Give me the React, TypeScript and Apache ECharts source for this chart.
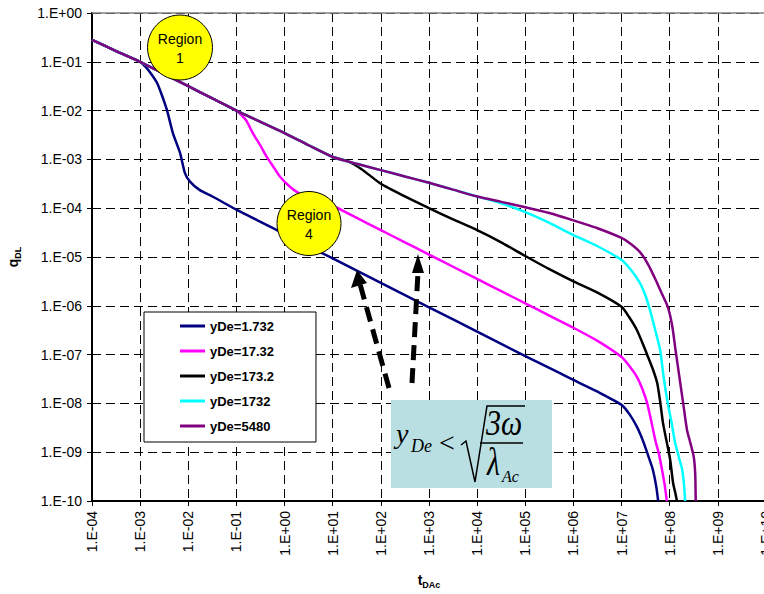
import React, { useEffect, useRef } from "react";
import * as echarts from "echarts";

// All values are log10 exponents (log-log chart)
const xTickExps = [-4, -3, -2, -1, 0, 1, 2, 3, 4, 5, 6, 7, 8, 9, 10];
const yTickExps = [-10, -9, -8, -7, -6, -5, -4, -3, -2, -1, 0];

const seriesNames = ["yDe=1.732", "yDe=17.32", "yDe=173.2", "yDe=1732", "yDe=5480"];
const seriesColors = ["#000080", "#ff00ff", "#000000", "#00ffff", "#800080"];

// yDe = 1.732
const tNavy = [-4, -3.5, -3, -2.89, -2.77, -2.65, -2.55, -2.44, -2.32, -2.17, -2.07, -1.96, -1.76, -1.5, -1, -0.5, 0, 1, 2, 3, 4, 5, 5.72, 6, 6.5, 7, 7.17, 7.32, 7.41, 7.49, 7.57, 7.65, 7.72, 7.76];
const qNavy = [-0.55, -0.78, -1.0, -1.1, -1.25, -1.43, -1.68, -2.0, -2.46, -2.87, -3.28, -3.46, -3.63, -3.76, -4.03, -4.28, -4.53, -5.03, -5.53, -6.03, -6.53, -7.03, -7.38, -7.52, -7.76, -8.03, -8.23, -8.48, -8.68, -8.89, -9.12, -9.36, -9.7, -10];

// yDe = 17.32
const tMagenta = [-4, -3.5, -3, -2.5, -2, -1.5, -1, -0.8, -0.66, -0.5, -0.37, -0.2, -0.09, 0.1, 0.26, 0.5, 1, 1.5, 2, 2.5, 3, 3.5, 4, 4.5, 5, 5.5, 6, 6.5, 7, 7.15, 7.32, 7.43, 7.53, 7.62, 7.7, 7.78, 7.84, 7.9, 7.94];
const qMagenta = [-0.55, -0.78, -1.0, -1.25, -1.5, -1.75, -2.0, -2.2, -2.46, -2.72, -2.95, -3.2, -3.36, -3.55, -3.67, -3.79, -3.95, -4.2, -4.45, -4.7, -4.95, -5.2, -5.45, -5.7, -5.95, -6.2, -6.45, -6.72, -7.05, -7.22, -7.46, -7.7, -7.99, -8.38, -8.75, -9.05, -9.36, -9.7, -10];

// yDe = 173.2
const tBlack = [-4, -3.5, -3, -2.5, -2, -1.5, -1, -0.5, 0, 0.5, 1, 1.3, 1.6, 2, 2.5, 3, 3.5, 4, 4.5, 5, 5.5, 6, 6.5, 7, 7.15, 7.32, 7.45, 7.55, 7.65, 7.74, 7.8, 7.86, 7.94, 8.01, 8.07, 8.12, 8.15];
const qBlack = [-0.55, -0.78, -1.0, -1.25, -1.5, -1.75, -2.0, -2.23, -2.46, -2.71, -2.95, -3.03, -3.2, -3.5, -3.76, -4.0, -4.23, -4.45, -4.7, -4.98, -5.25, -5.5, -5.73, -6.02, -6.22, -6.5, -6.8, -7.05, -7.3, -7.58, -7.95, -8.4, -8.8, -9.16, -9.63, -9.85, -10];

// yDe = 1732
const tCyan = [-4, -3.5, -3, -2.5, -2, -1.5, -1, -0.5, 0, 0.5, 1, 1.5, 2, 2.5, 3, 3.5, 4, 4.5, 5, 5.5, 6, 6.5, 7, 7.2, 7.38, 7.5, 7.59, 7.7, 7.8, 7.88, 7.96, 8.04, 8.11, 8.19, 8.26, 8.3, 8.32];
const qCyan = [-0.55, -0.78, -1.0, -1.25, -1.5, -1.75, -2.0, -2.23, -2.46, -2.71, -2.95, -3.09, -3.22, -3.35, -3.48, -3.62, -3.76, -3.9, -4.08, -4.3, -4.55, -4.78, -5.06, -5.27, -5.53, -5.8, -6.09, -6.5, -6.9, -7.5, -8.0, -8.4, -8.8, -9.1, -9.36, -9.7, -10];

// yDe = 5480
const tPurple = [-4, -3.5, -3, -2.5, -2, -1.5, -1, -0.5, 0, 0.5, 1, 1.5, 2, 2.5, 3, 3.5, 4, 4.5, 5, 5.5, 6, 6.5, 7, 7.2, 7.4, 7.55, 7.7, 7.85, 7.96, 8.05, 8.12, 8.2, 8.28, 8.36, 8.44, 8.5, 8.53, 8.54];
const qPurple = [-0.55, -0.78, -1.0, -1.25, -1.5, -1.75, -2.0, -2.23, -2.46, -2.71, -2.95, -3.09, -3.22, -3.35, -3.48, -3.62, -3.76, -3.87, -3.98, -4.1, -4.25, -4.41, -4.61, -4.74, -4.92, -5.15, -5.45, -5.78, -6.02, -6.4, -6.9, -7.45, -8.0, -8.55, -8.85, -9.1, -9.45, -10];

const seriesT = [tNavy, tMagenta, tBlack, tCyan, tPurple];
const seriesQ = [qNavy, qMagenta, qBlack, qCyan, qPurple];

const SANS = "Liberation Sans, Arial, Helvetica, sans-serif";
const SERIF = "Liberation Serif, Times New Roman, serif";

const expLabel = (v: number) => {
  const n = Math.round(v);
  return "1.E" + (n < 0 ? "-" : "+") + String(Math.abs(n)).padStart(2, "0");
};

export default function App() {
  const ref = useRef<HTMLDivElement>(null);
  useEffect(() => {
    if (!ref.current) return;
    const chart = echarts.init(ref.current, undefined, { renderer: "svg" });
    const Z = 100;
    const nameRich = {
      t: { fontSize: 14, fontWeight: "bold", fontFamily: SANS, color: "#000", lineHeight: 18, verticalAlign: "middle" },
      s: { fontSize: 9, fontWeight: "bold", fontFamily: SANS, color: "#000", lineHeight: 10, verticalAlign: "bottom", padding: [6, 0, 0, 0] },
    };
    const txt = (x: number, y: number, text: string, size: number, italic: boolean, extra: any = {}) => ({
      type: "text",
      z: Z + 1,
      x,
      y,
      ...extra,
      style: {
        text,
        fontSize: size,
        fontStyle: italic ? "italic" : "normal",
        fontFamily: SERIF,
        fill: "#000",
        align: "left",
        verticalAlign: "middle",
        textAlign: "left",
        textVerticalAlign: "middle",
      },
    });
    const option: any = {
      animation: false,
      backgroundColor: "#ffffff",
      grid: { left: 92, top: 13, width: 674, height: 488, outerBoundsMode: "none", containLabel: false },
      xAxis: {
        type: "value",
        min: xTickExps[0],
        max: xTickExps[xTickExps.length - 1],
        interval: 1,
        name: "{t|t}{s|DAc}",
        nameLocation: "middle",
        nameGap: 70,
        nameTextStyle: { rich: nameRich },
        axisLine: { show: true, onZero: false, lineStyle: { color: "#000", width: 2 } },
        axisTick: { show: true, length: 5, lineStyle: { color: "#000", width: 1 } },
        axisLabel: { rotate: 90, fontSize: 14, fontFamily: SANS, color: "#000", margin: 10, formatter: expLabel, showMinLabel: true, showMaxLabel: true },
        splitLine: { show: true, lineStyle: { color: "#000", width: 1, type: [9, 5] } },
      },
      yAxis: {
        type: "value",
        min: yTickExps[0],
        max: yTickExps[yTickExps.length - 1],
        interval: 1,
        name: "{t|q}{s|DL}",
        nameLocation: "middle",
        nameGap: 70,
        nameRotate: 90,
        nameTextStyle: { rich: nameRich },
        axisLine: { show: true, onZero: false, lineStyle: { color: "#000", width: 2 } },
        axisTick: { show: true, length: 5, lineStyle: { color: "#000", width: 1 } },
        axisLabel: { fontSize: 14, fontFamily: SANS, color: "#000", margin: 10, formatter: expLabel },
        splitLine: { show: true, lineStyle: { color: "#000", width: 1, type: [9, 5] } },
      },
      legend: {
        orient: "vertical",
        left: 144,
        top: 312,
        padding: [7, 42, 9, 36],
        itemGap: 11,
        itemWidth: 25,
        itemHeight: 3,
        itemTextGap: 2,
        icon: "rect",
        backgroundColor: "#ffffff",
        borderColor: "#000",
        borderWidth: 1,
        textStyle: { fontSize: 13, fontWeight: "bold", fontFamily: SANS, color: "#000", lineHeight: 14 },
        data: seriesNames,
      },
      series: seriesNames.map((name, i) => ({
        name,
        type: "line",
        symbol: "none",
        showSymbol: false,
        smooth: 0.2,
        clip: true,
        color: seriesColors[i],
        lineStyle: { color: seriesColors[i], width: 2.5 },
        data: seriesT[i].map((t, j) => [t, seriesQ[i][j]]),
      })),
      graphic: [
        { type: "line", z: 50, shape: { x1: 92, y1: 13, x2: 766, y2: 13 }, style: { stroke: "#808080", lineWidth: 1.5 } },
        // Region circles
        { type: "circle", z: Z, shape: { cx: 180, cy: 47.5, r: 32.5 }, style: { fill: "#ffff00", stroke: "#000", lineWidth: 1 } },
        { type: "text", z: Z + 1, x: 180, y: 48.5, style: { text: "Region\n1", fontSize: 14, fontFamily: SANS, fill: "#000", align: "center", verticalAlign: "middle", textAlign: "center", textVerticalAlign: "middle", lineHeight: 19 } },
        { type: "circle", z: Z, shape: { cx: 309, cy: 223.5, r: 32 }, style: { fill: "#ffff00", stroke: "#000", lineWidth: 1 } },
        { type: "text", z: Z + 1, x: 309, y: 224, style: { text: "Region\n4", fontSize: 14, fontFamily: SANS, fill: "#000", align: "center", verticalAlign: "middle", textAlign: "center", textVerticalAlign: "middle", lineHeight: 19 } },
        // Arrows
        { type: "line", z: Z, shape: { x1: 389, y1: 388, x2: 360, y2: 284 }, style: { stroke: "#000", lineWidth: 5, lineDash: [15, 8] } },
        { type: "polygon", z: Z, shape: { points: [[357, 270], [351, 288], [367, 283]] }, style: { fill: "#000" } },
        { type: "line", z: Z, shape: { x1: 412, y1: 383, x2: 418, y2: 272 }, style: { stroke: "#000", lineWidth: 5, lineDash: [15, 8] } },
        { type: "polygon", z: Z, shape: { points: [[418, 254], [412, 273], [424, 273]] }, style: { fill: "#000" } },
        // Formula box
        { type: "rect", z: Z, shape: { x: 391, y: 400, width: 161, height: 88 }, style: { fill: "#b9dfe2" } },
        txt(396, 433, "y", 28, true),
        txt(411, 446, "De", 18, true),
        txt(439, 442, "<", 28, false),
        { type: "polyline", z: Z + 1, shape: { points: [[461, 445], [466, 441], [475, 482], [487, 406], [525, 406]] }, style: { stroke: "#000", lineWidth: 1.5, fill: null } },
        txt(486, 423, "3ω", 30, true, { scaleY: 1.2 }),
        { type: "line", z: Z + 1, shape: { x1: 480, y1: 443, x2: 523, y2: 443 }, style: { stroke: "#000", lineWidth: 1.5 } },
        txt(487, 462, "λ", 30, true, { scaleY: 1.3 }),
        txt(502, 476, "Ac", 16, true),
      ],
    };
    chart.setOption(option);
    return () => chart.dispose();
  }, []);
  return <div ref={ref} style={{ position: "absolute", left: 0, top: 0, width: 764, height: 594 }} />;
}
